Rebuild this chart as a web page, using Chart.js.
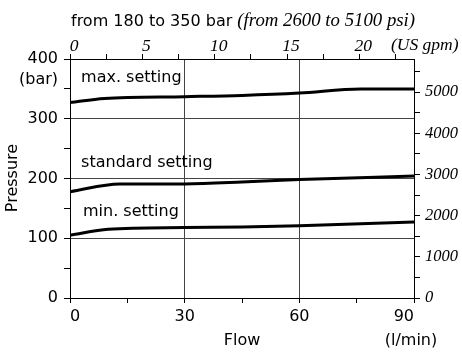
<!DOCTYPE html>
<html>
<head>
<meta charset="utf-8">
<script src="https://cdn.jsdelivr.net/npm/chart.js@4/dist/chart.umd.min.js"></script>
<style>
html,body{margin:0;padding:0;background:#fff;}
canvas{display:block;}
</style>
</head>
<body>
<canvas id="c" width="462" height="352"></canvas>
<script>
// ---- data ----
const flowMax = [0, 9, 30, 45, 60, 76, 90];
const maxSetting = [327, 334, 337, 339, 343, 350, 350];
const flowStd = [0, 13, 30, 45, 60, 90];
const stdSetting = [178, 191, 191, 194, 198.5, 204];
const flowMin = [0, 10, 30, 45, 60, 90];
const minSetting = [105, 115, 118, 119, 121, 127];

const flowLabels = [0, 30, 60, 90];          // l/min
const pressureLabels = [0, 100, 200, 300, 400]; // bar
const gpmLabels = [0, 5, 10, 15, 20];          // US gpm
const psiLabels = [0, 1000, 2000, 3000, 4000, 5000];
const flowGrid = [30, 60];
const pressureGrid = [100, 200, 300];
const curveLabels = ['max. setting', 'standard setting', 'min. setting'];
const curveLabelFlow = [2.9, 2.9, 3.4];
const curveLabelPressure = [368, 226, 144];

const LPM_PER_GPM = 3.785;
const PSI_PER_BAR = 14.5038;
const FLOW_MAX = 90, P_MAX = 400;

const SANS = '"DejaVu Sans", sans-serif';
const SERIF = '"Liberation Serif", serif';

function pts(xs, ys){ return xs.map((x,i)=>({x:x, y:ys[i]})); }
function lineDs(label, xs, ys){
  return {label, data: pts(xs, ys), showLine: true, borderColor:'#000', borderWidth:3,
          pointRadius:0, tension:0.25, cubicInterpolationMode:'monotone', fill:false, xAxisID:'x', yAxisID:'y'};
}
function fixSize(prop, v){ return function(s){ s[prop] = v; }; }
function stepTicks(step){
  return function(s){
    const out = [];
    for (let i = 0; i * step <= s.max + 1e-9; i++) out.push({ value: i * step });
    s.ticks = out;
  };
}
function labelIf(list){ return v => list.includes(Math.round(v*1000)/1000) ? String(Math.round(v)) : ''; }

const textPlugin = {
  id: 'texts',
  afterDraw(chart){
    const ctx = chart.ctx;
    const xs = chart.scales.x, ys = chart.scales.y;
    ctx.save();
    ctx.fillStyle = '#000';
    ctx.textBaseline = 'alphabetic';
    // title (mixed fonts)
    const t1 = 'from 180 to 350 bar ';
    const t2 = '(from 2600 to 5100 psi)';
    ctx.font = '16px ' + SANS;
    const w1 = ctx.measureText(t1).width;
    ctx.textAlign = 'left';
    ctx.fillText(t1, 71, 26);
    ctx.font = 'italic 18.8px ' + SERIF;
    ctx.fillText(t2, 71 + w1, 26);
    // (US gpm)
    ctx.font = 'italic 17.5px ' + SERIF;
    ctx.fillText('(US gpm)', 391, 50);
    // (bar)
    ctx.font = '16px ' + SANS;
    ctx.textAlign = 'right';
    ctx.textBaseline = 'middle';
    ctx.fillText('(bar)', 58, 80);
    // Flow, (l/min)
    ctx.textAlign = 'center';
    ctx.fillText('Flow', 242, 341);
    ctx.fillText('(l/min)', 411, 341);
    // Pressure
    ctx.save();
    ctx.translate(13, 178);
    ctx.rotate(-Math.PI/2);
    ctx.fillText('Pressure', 0, 0);
    ctx.restore();
    // curve labels
    ctx.textAlign = 'left';
    for (let i = 0; i < curveLabels.length; i++){
      ctx.fillText(curveLabels[i], xs.getPixelForValue(curveLabelFlow[i]), ys.getPixelForValue(curveLabelPressure[i]));
    }
    ctx.restore();
  }
};

new Chart(document.getElementById('c'), {
  type: 'scatter',
  data: { datasets: [
    lineDs('max. setting', flowMax, maxSetting),
    lineDs('standard setting', flowStd, stdSetting),
    lineDs('min. setting', flowMin, minSetting)
  ]},
  options: {
    responsive: false,
    animation: false,
    events: [],
    layout: { padding: 0 },
    plugins: { legend: {display:false}, tooltip: {enabled:false}, title: {display:false} },
    scales: {
      x: {
        type: 'linear', position: 'bottom', min: 0, max: FLOW_MAX,
        afterFit: fixSize('height', 54),
        afterBuildTicks: stepTicks(15),
        border: { display: true, color: '#000', width: 1 },
        grid: {
          color: c => (c.tick && flowGrid.includes(c.tick.value)) ? '#444' : 'rgba(0,0,0,0)',
          tickColor: '#000', tickLength: 5, lineWidth: 1
        },
        ticks: {
          align: 'inner', maxRotation: 0, autoSkip: false, padding: 4,
          color: '#000', font: { family: SANS, size: 16 },
          callback: labelIf(flowLabels)
        }
      },
      x2: {
        type: 'linear', position: 'top', min: 0, max: FLOW_MAX / LPM_PER_GPM,
        afterFit: fixSize('height', 59),
        afterBuildTicks: stepTicks(2.5),
        border: { display: true, color: '#000', width: 1 },
        grid: { drawOnChartArea: false, tickColor: '#000', tickLength: 5 },
        ticks: {
          maxRotation: 0, autoSkip: false, padding: -3, labelOffset: 4,
          color: '#000', font: { family: SERIF, size: 17.5, style: 'italic' },
          callback: labelIf(gpmLabels)
        }
      },
      y: {
        type: 'linear', position: 'left', min: 0, max: P_MAX,
        afterFit: fixSize('width', 70),
        afterBuildTicks: stepTicks(50),
        border: { display: true, color: '#000', width: 1 },
        grid: {
          color: c => (c.tick && pressureGrid.includes(c.tick.value)) ? '#444' : 'rgba(0,0,0,0)',
          tickColor: '#000', tickLength: 6, lineWidth: 1
        },
        ticks: {
          autoSkip: false, padding: 6,
          color: '#000', font: { family: SANS, size: 16 },
          callback: labelIf(pressureLabels)
        }
      },
      y2: {
        type: 'linear', position: 'right', min: 0, max: P_MAX * PSI_PER_BAR,
        afterFit: fixSize('width', 48),
        afterBuildTicks: stepTicks(500),
        border: { display: true, color: '#000', width: 1 },
        grid: { drawOnChartArea: false, tickColor: '#000', tickLength: 6 },
        ticks: {
          autoSkip: false, padding: 5,
          color: '#000', font: { family: SERIF, size: 16.5, style: 'italic' },
          callback: labelIf(psiLabels)
        }
      }
    }
  },
  plugins: [textPlugin]
});
</script>
</body>
</html>
